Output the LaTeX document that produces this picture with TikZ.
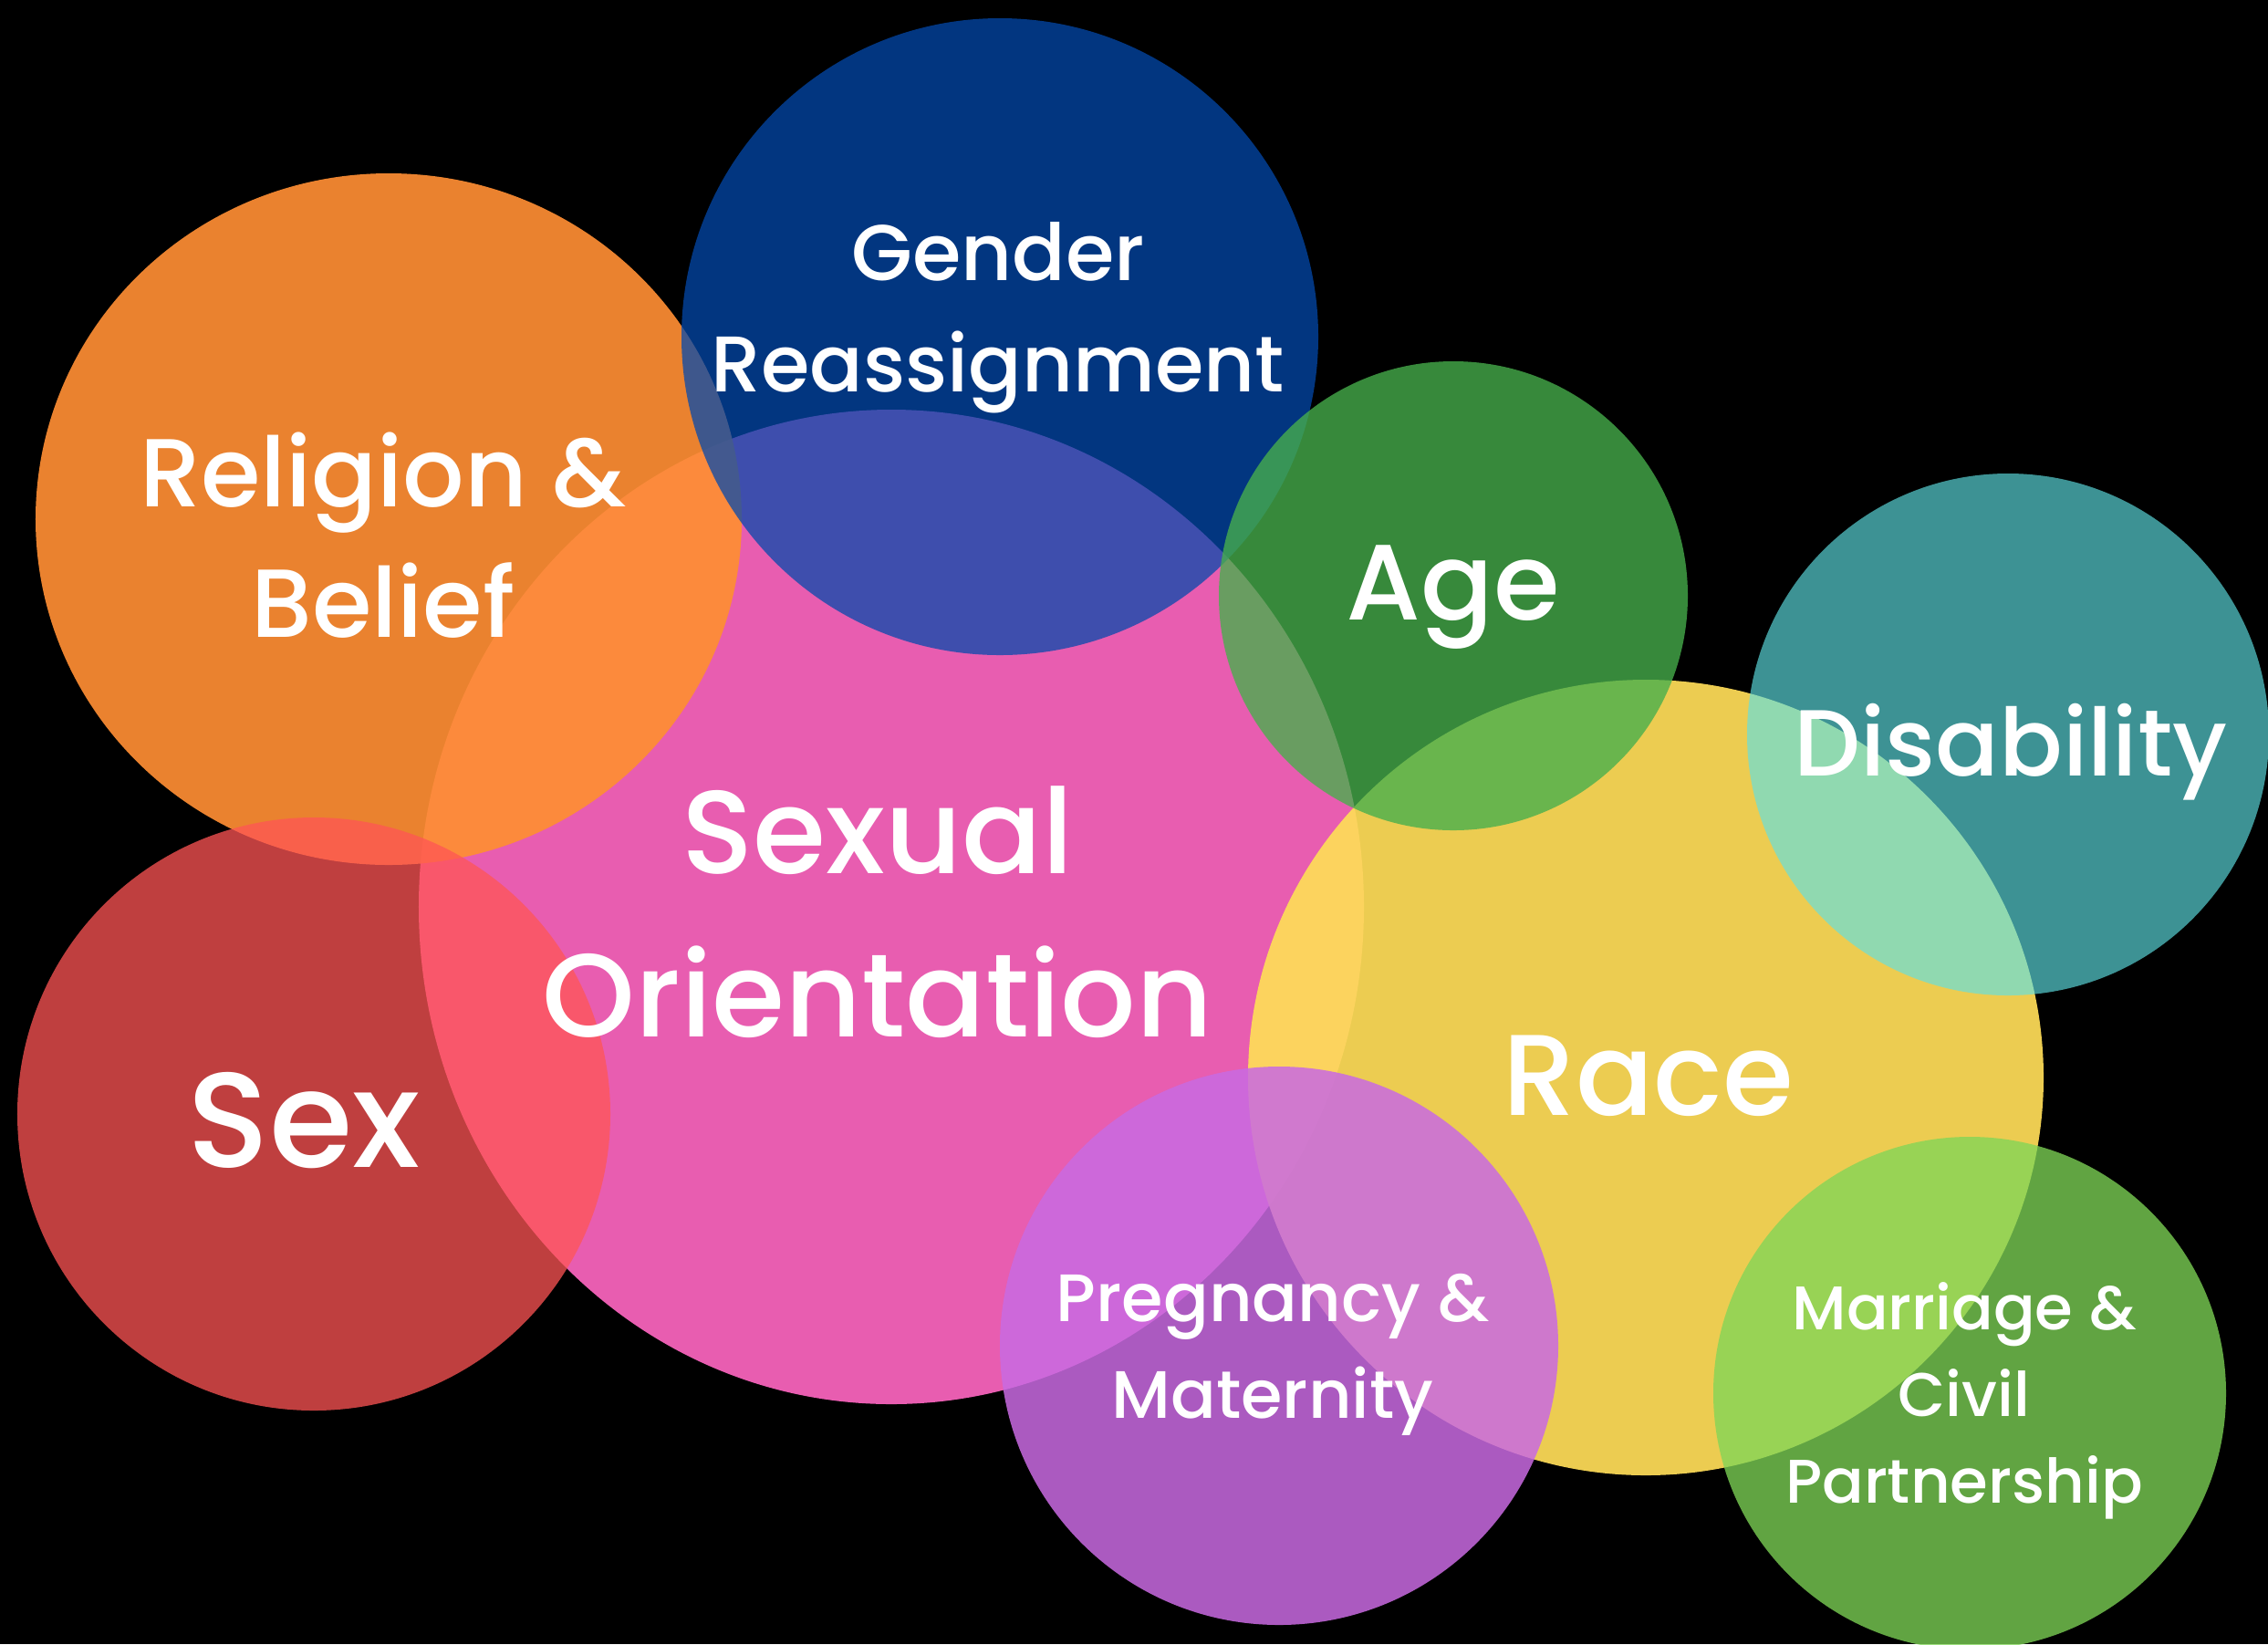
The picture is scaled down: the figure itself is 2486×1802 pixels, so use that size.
\documentclass[tikz,border=0pt]{standalone}
\usepackage{fontspec}
\setmainfont{Poppins Medium}
\usetikzlibrary{shapes.geometric}
\definecolor{orientcol}{RGB}{232,93,176}
\definecolor{racecol}{RGB}{254,220,88}
\definecolor{religioncol}{RGB}{254,142,51}
\definecolor{gendercol}{RGB}{3,73,173}
\definecolor{sexcol}{RGB}{255,85,85}
\definecolor{agecol}{RGB}{71,175,76}
\definecolor{disabilitycol}{RGB}{95,225,228}
\definecolor{pregnancycol}{RGB}{201,106,226}
\definecolor{marriagecol}{RGB}{127,214,87}
\newcommand{\Size}[2]{\fontsize{#1}{#2}\selectfont}
\tikzset{
    blob/.style={ellipse, draw=none, inner sep=0pt},
    lbl/.style={text=white, align=center, inner sep=0pt},
}

\begin{document}
\begin{tikzpicture}[x=0.4pt, y=-0.4pt]
    \useasboundingbox (0,0) rectangle (2486,1802);
    \fill[black] (0,0) rectangle (2486,1802);
    \clip (0,0) rectangle (2486,1802);

    % circles, lowest first
    \node[blob, fill=orientcol, minimum width=414.4pt, minimum height=436pt] (orient) at (977,994) {};
    \node[blob, fill=racecol, fill opacity=0.93, minimum size=348.8pt] (race) at (1804,1181) {};
    \node[blob, fill=religioncol, fill opacity=0.92, minimum width=309.6pt, minimum height=303.2pt] (religion) at (426,569) {};
    \node[blob, fill=gendercol, fill opacity=0.74, minimum size=279.2pt] (gender) at (1096,369) {};
    \node[blob, fill=sexcol, fill opacity=0.75, minimum size=260pt] (sex) at (344,1221) {};
    \node[blob, fill=agecol, fill opacity=0.79, minimum size=205.6pt] (age) at (1593,653) {};
    \node[blob, fill=disabilitycol, fill opacity=0.65, minimum size=228.8pt] (disability) at (2201,805) {};
    \node[blob, fill=pregnancycol, fill opacity=0.85, minimum size=244.8pt] (pregnancy) at (1402,1475) {};
    \node[blob, fill=marriagecol, fill opacity=0.77, minimum size=224.8pt] (marriage) at (2159,1527) {};

    % labels
    \node[lbl, font=\Size{34.6}{48.8}] (gendertext) at (1094,348) {Gender\\Reassignment};
    \node[lbl, font=\Size{42.4}{57.2}] (religiontext) at (420,587) {Religion \&\\Belief};
    \node[lbl, font=\Size{47}{56}] (agetext) at (1593,655) {Age};
    \node[lbl, font=\Size{41.2}{56}] (disabilitytext) at (2204,824) {Disability};
    \node[lbl, font=\Size{51.8}{71.6}] (orienttext) at (962,1000) {Sexual\\Orientation};
    \node[lbl, font=\Size{59.2}{68}] (sextext) at (333,1228) {Sex};
    \node[lbl, font=\Size{50.4}{64}] (racetext) at (1807,1179) {Race};
    \node[lbl, font=\Size{29.4}{42.4}] (pregnancytext) at (1395,1485) {Pregnancy \&\\Maternity};
    \node[lbl, font=\Size{27}{38}] (marriagetext) at (2153,1535) {Marriage \&\\Civil\\Partnership};
\end{tikzpicture}
\end{document}
